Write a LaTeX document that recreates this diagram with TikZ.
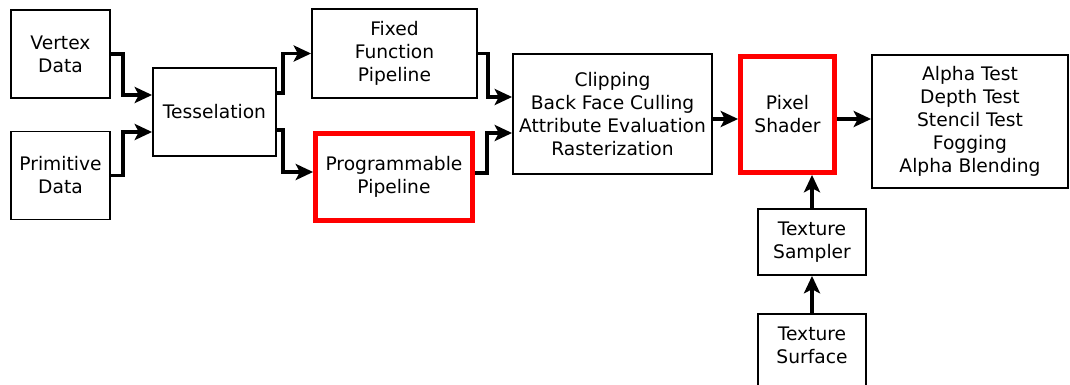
\documentclass[tikz,border=0pt]{standalone}
\usepackage{fontspec}
\setmainfont{DejaVu Sans}
\usetikzlibrary{arrows.meta, positioning, calc}

\begin{document}
\begin{tikzpicture}[x=0.75pt, y=-0.75pt,
		box/.style={draw, line width=1.4pt, align=center, inner sep=0pt, font=\fontsize{14}{17.25}\selectfont},
		redbox/.style={box, draw=red, line width=3.6pt},
		flow/.style={line width=2.6pt, -{Stealth[length=13pt, width=12pt, inset=3pt]}}]
	\useasboundingbox (0,0) rectangle (1070,385);
	\clip (0,0) rectangle (1070,385);
	\node[box, minimum width=74.25pt, minimum height=66pt] (vertex) at (60.5,54) {Vertex\\Data};
	\node[box, minimum width=74.25pt, minimum height=66pt] (primitive) at (60.5,175.5) {Primitive\\Data};
	\node[box, minimum width=92.25pt, minimum height=66pt] (tess) at (214.5,112) {Tesselation};
	\node[box, minimum width=123.75pt, minimum height=66.75pt] (fixed) at (394.5,53.5) {Fixed\\Function\\Pipeline};
	\node[redbox, minimum width=117.75pt, minimum height=65.25pt] (prog) at (394,177) {Programmable\\Pipeline};
	\node[box, minimum width=149.25pt, minimum height=90pt] (clip) at (612.5,114) {Clipping\\Back Face Culling\\Attribute Evaluation\\Rasterization};
	\node[redbox, minimum width=70.5pt, minimum height=87pt] (pixel) at (787.5,114.5) {Pixel\\Shader};
	\node[box, minimum width=147pt, minimum height=99.75pt] (alpha) at (970,121.5) {Alpha Test\\Depth Test\\Stencil Test\\Fogging\\Alpha Blending};
	\node[box, minimum width=81pt, minimum height=49.5pt] (sampler) at (812,242) {Texture\\Sampler};
	\node[box, anchor=north, minimum width=81pt, minimum height=67.5pt,
		label={[align=center, anchor=north, yshift=-7pt, font=\fontsize{14}{17.25}\selectfont]north:{Texture\\Surface}}] (surface) at (812,313) {};

	\draw[flow] (vertex.east) -- ++(12,0) |- ($(tess.west)+(0,-17)$);
	\draw[flow] (primitive.east) -- ++(12,0) |- ($(tess.west)+(0,20)$);
	\draw[flow] ($(tess.east)+(0,-19)$) -- ++(6,0) |- (fixed.west);
	\draw[flow] ($(tess.east)+(0,18)$) -- ++(6,0) |- ($(prog.west)+(0,-5)$);
	\draw[flow] (fixed.east) -- ++(10,0) |- ($(clip.west)+(0,-17)$);
	\draw[flow] ($(prog.east)+(0,-4)$) -- ++(12,0) |- ($(clip.west)+(0,19)$);
	\draw[flow] ($(clip.east)+(0,5)$) -- ($(pixel.west)+(0,4.5)$);
	\draw[flow] ($(pixel.east)+(0,4.5)$) -- ($(alpha.west)+(0,-2.5)$);
	\draw[flow] (sampler.north) -- (sampler.north |- pixel.south);
	\draw[flow] (surface.north) -- (sampler.south);
\end{tikzpicture}
\end{document}
